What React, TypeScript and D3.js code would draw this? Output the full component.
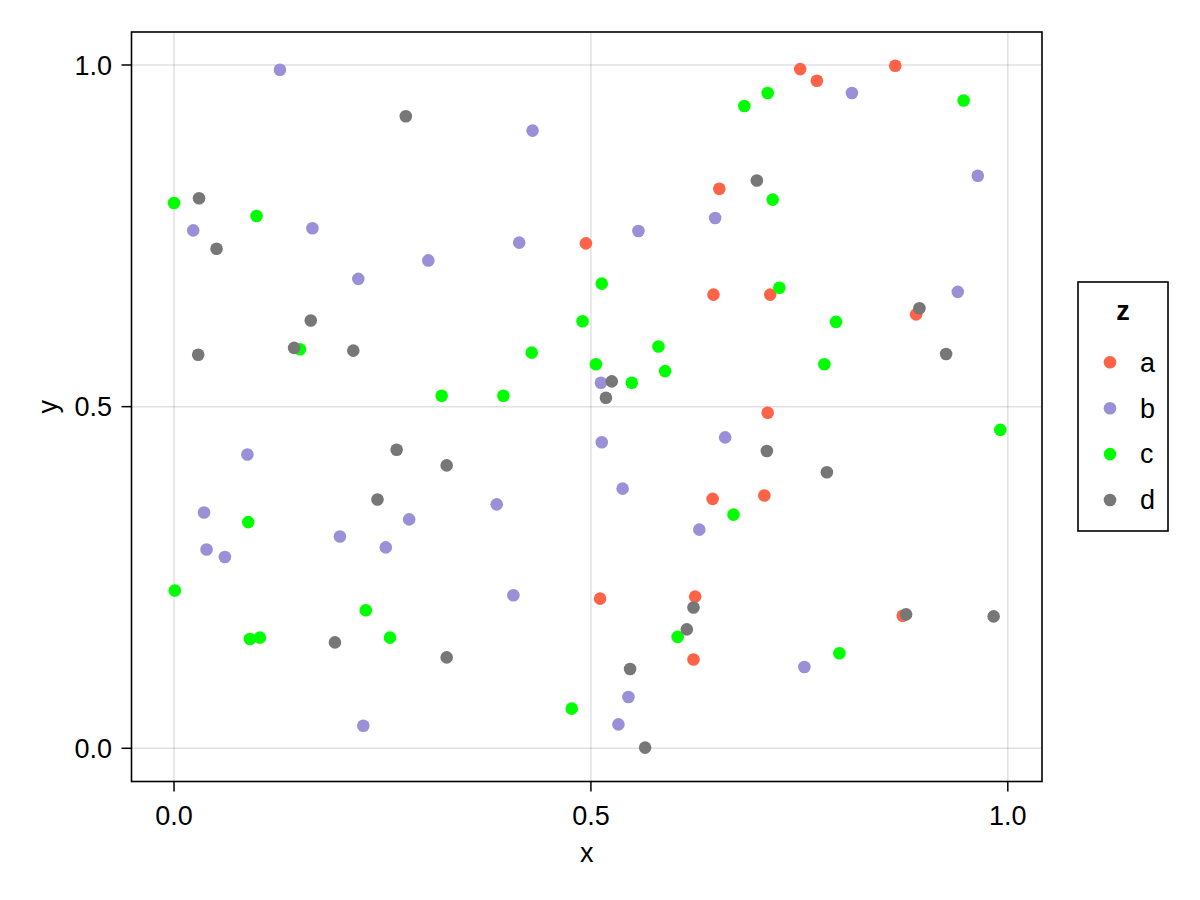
import React from "react";
import * as d3 from "d3";

const groups = ["a", "b", "c", "d"];
const colors = ["#ff6347", "#9990d8", "#00ff00", "#777777"];

const aX = [0.494, 0.751, 0.771, 0.865, 0.654, 0.647, 0.715, 0.890, 0.712, 0.646, 0.708, 0.511, 0.625, 0.874, 0.623];
const aY = [0.739, 0.994, 0.977, 0.999, 0.819, 0.664, 0.664, 0.635, 0.491, 0.365, 0.370, 0.219, 0.222, 0.194, 0.130];

const bX = [0.127, 0.430, 0.023, 0.166, 0.414, 0.305, 0.221, 0.813, 0.964, 0.649, 0.557, 0.940, 0.512, 0.088, 0.387, 0.036, 0.282, 0.199, 0.254, 0.039, 0.061, 0.407, 0.227, 0.513, 0.661, 0.538, 0.630, 0.756, 0.545, 0.533];
const bY = [0.993, 0.904, 0.758, 0.761, 0.740, 0.714, 0.687, 0.959, 0.838, 0.776, 0.757, 0.668, 0.535, 0.430, 0.357, 0.345, 0.335, 0.310, 0.294, 0.291, 0.280, 0.224, 0.033, 0.448, 0.455, 0.380, 0.320, 0.119, 0.075, 0.035];

const cX = [0.000, 0.099, 0.490, 0.429, 0.151, 0.321, 0.395, 0.712, 0.684, 0.947, 0.718, 0.513, 0.726, 0.794, 0.581, 0.506, 0.589, 0.780, 0.549, 0.089, 0.001, 0.230, 0.091, 0.103, 0.259, 0.477, 0.991, 0.671, 0.604, 0.798];
const cY = [0.798, 0.779, 0.625, 0.579, 0.584, 0.516, 0.516, 0.959, 0.940, 0.948, 0.803, 0.680, 0.674, 0.624, 0.588, 0.562, 0.552, 0.562, 0.535, 0.331, 0.231, 0.202, 0.160, 0.162, 0.162, 0.058, 0.466, 0.342, 0.163, 0.139];

const dX = [0.278, 0.030, 0.051, 0.164, 0.144, 0.029, 0.215, 0.699, 0.894, 0.926, 0.525, 0.518, 0.267, 0.327, 0.244, 0.193, 0.327, 0.711, 0.783, 0.623, 0.878, 0.983, 0.615, 0.547, 0.565];
const dY = [0.925, 0.805, 0.731, 0.626, 0.586, 0.576, 0.582, 0.831, 0.644, 0.577, 0.537, 0.513, 0.437, 0.414, 0.364, 0.155, 0.133, 0.435, 0.404, 0.206, 0.196, 0.193, 0.174, 0.116, 0.001];

const seriesX = [aX, bX, cX, dX];
const seriesY = [aY, bY, cY, dY];

const xTicks = [0.0, 0.5, 1.0];
const yTicks = [0.0, 0.5, 1.0];
const xLabel = "x";
const yLabel = "y";
const legendTitle = "z";

export default function App() {
  const W = 1200;
  const H = 900;
  const left = 131.5;
  const right = 1042;
  const top = 32;
  const bottom = 781.5;
  const x = d3.scaleLinear().domain([-0.051, 1.041]).range([left, right]);
  const y = d3.scaleLinear().domain([-0.0486, 1.0483]).range([bottom, top]);
  const fmt = d3.format(".1f");
  const font = "'Liberation Sans', Arial, sans-serif";
  const fs = 27;
  const r = 6.3;

  const legX = 1078;
  const legY = 282;
  const legW = 90;
  const legH = 249;

  return (
    <svg
      width={W}
      height={H}
      style={{ position: "absolute", left: 0, top: 0, background: "#fff" }}
      fontFamily={font}
    >
      <rect x={0} y={0} width={W} height={H} fill="#fff" />
      {xTicks.map((t) => (
        <line key={"gx" + t} x1={x(t)} x2={x(t)} y1={top} y2={bottom} stroke="rgba(0,0,0,0.12)" strokeWidth={1.5} />
      ))}
      {yTicks.map((t) => (
        <line key={"gy" + t} x1={left} x2={right} y1={y(t)} y2={y(t)} stroke="rgba(0,0,0,0.12)" strokeWidth={1.5} />
      ))}
      {groups.map((g, gi) => (
        <g key={g}>
          {seriesX[gi].map((vx, i) => (
            <circle key={i} cx={x(vx)} cy={y(seriesY[gi][i])} r={r} fill={colors[gi]} />
          ))}
        </g>
      ))}
      <rect x={left} y={top} width={right - left} height={bottom - top} fill="none" stroke="#000" strokeWidth={1.6} />
      {xTicks.map((t) => (
        <g key={"xt" + t}>
          <line x1={x(t)} x2={x(t)} y1={bottom} y2={bottom + 10} stroke="#000" strokeWidth={1.5} />
          <text x={x(t)} y={825} textAnchor="middle" fontSize={fs} fill="#000">
            {fmt(t)}
          </text>
        </g>
      ))}
      {yTicks.map((t) => (
        <g key={"yt" + t}>
          <line x1={left - 10} x2={left} y1={y(t)} y2={y(t)} stroke="#000" strokeWidth={1.5} />
          <text x={112} y={y(t) + 9.7} textAnchor="end" fontSize={fs} fill="#000">
            {fmt(t)}
          </text>
        </g>
      ))}
      <text x={(left + right) / 2} y={862} textAnchor="middle" fontSize={fs} fill="#000">
        {xLabel}
      </text>
      <text
        transform={`translate(57, ${(top + bottom) / 2}) rotate(-90)`}
        textAnchor="middle"
        fontSize={fs}
        fill="#000"
      >
        {yLabel}
      </text>
      <rect x={legX} y={legY} width={legW} height={legH} fill="#fff" stroke="#000" strokeWidth={1.6} />
      <text x={1123} y={320} textAnchor="middle" fontSize={fs} fontWeight="bold" fill="#000">
        {legendTitle}
      </text>
      {groups.map((g, gi) => {
        const cy = 362.3 + gi * 45.9;
        return (
          <g key={"lg" + g}>
            <circle cx={1110} cy={cy} r={r} fill={colors[gi]} />
            <text x={1140} y={cy + 9.3} fontSize={fs} fill="#000">
              {g}
            </text>
          </g>
        );
      })}
    </svg>
  );
}
